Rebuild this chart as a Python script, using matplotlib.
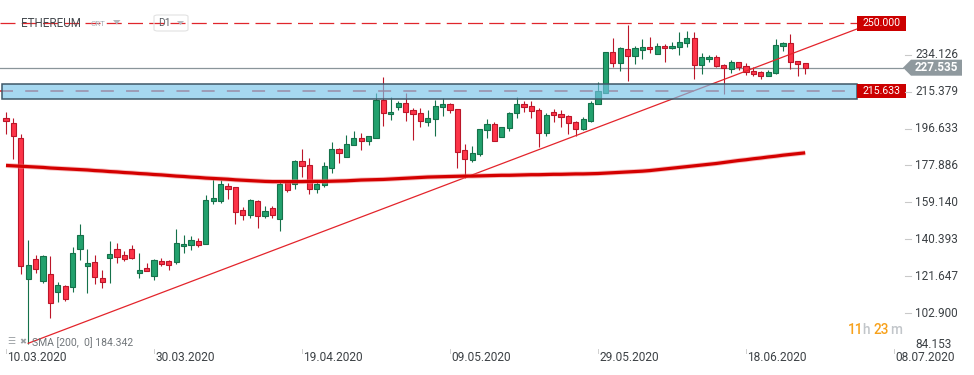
import matplotlib
matplotlib.use('Agg')
import matplotlib.pyplot as plt
import matplotlib.dates as mdates
from matplotlib.patches import Rectangle, Polygon, FancyBboxPatch
import numpy as np
import pandas as pd

plt.rcParams['font.family'] = ['Roboto', 'DejaVu Sans']

# ---------------- data ----------------
dates = pd.date_range('2020-03-10', periods=109, freq='D')

opens = [202.0, 199.5, 191.9, 120.0, 130.6, 119.3, 123.0, 113.7, 116.6, 116.2,
         135.7, 126.9, 128.9, 121.0, 130.9, 135.3, 132.3, 135.7, 123.5, 125.8,
         121.8, 129.2, 129.2, 128.9, 137.0, 137.3, 139.5, 138.2, 159.8, 159.8,
         167.6, 166.9, 155.4, 152.9, 159.8, 152.3, 156.4, 150.9, 169.4, 168.6,
         180.4, 177.9, 165.9, 168.1, 176.6, 186.3, 182.1, 188.4, 191.9, 190.2,
         191.7, 211.2, 204.1, 207.4, 209.7, 205.8, 204.6, 200.2, 201.6, 207.4,
         209.2, 206.6, 185.5, 180.9, 183.8, 196.0, 199.0, 192.2, 196.9, 204.5,
         209.2, 208.3, 206.1, 194.5, 205.2, 204.2, 203.1, 200.2, 196.5, 200.7,
         209.2, 214.7, 235.6, 229.9, 237.0, 233.3, 236.5, 238.2, 234.5, 238.7,
         237.5, 237.8, 239.9, 242.6, 228.9, 232.0, 232.8, 228.9, 226.9, 230.2,
         228.6, 226.0, 225.2, 223.1, 224.9, 238.3, 240.1, 230.7, 229.7]
highs = [204.9, 202.0, 194.0, 139.9, 132.6, 132.3, 131.8, 118.8, 117.1, 136.5,
         148.0, 135.7, 132.6, 124.7, 139.4, 138.5, 134.5, 137.7, 133.4, 128.6,
         130.6, 131.1, 129.8, 145.8, 142.8, 141.9, 141.1, 163.0, 171.7, 170.3,
         169.1, 167.2, 157.0, 160.7, 160.2, 157.5, 157.1, 169.8, 170.6, 180.9,
         186.0, 181.8, 169.4, 179.9, 189.7, 186.9, 193.6, 195.6, 194.5, 193.1,
         214.5, 223.0, 212.9, 210.8, 214.7, 207.1, 207.1, 206.3, 211.2, 212.2,
         209.7, 206.6, 188.9, 188.0, 196.5, 201.6, 200.2, 197.6, 205.2, 212.9,
         210.8, 210.7, 206.9, 204.7, 206.6, 206.1, 203.4, 200.7, 202.7, 210.6,
         220.4, 235.6, 242.4, 238.2, 249.2, 238.3, 242.1, 243.3, 240.1, 239.6,
         240.7, 245.4, 246.3, 245.8, 235.0, 234.1, 234.0, 229.4, 231.4, 230.2,
         229.9, 227.7, 226.0, 226.4, 242.1, 240.4, 244.6, 231.1, 229.9]
lows = [193.9, 181.3, 123.0, 87.5, 123.3, 118.2, 100.2, 108.6, 109.1, 113.7,
        129.7, 112.9, 117.9, 115.7, 118.4, 128.4, 129.4, 130.6, 120.8, 124.3,
        119.8, 126.6, 125.0, 127.7, 133.4, 134.8, 136.5, 138.1, 158.4, 158.8,
        160.8, 148.0, 150.0, 151.4, 146.2, 151.2, 151.2, 144.6, 164.2, 165.9,
        172.0, 163.5, 163.9, 166.9, 174.0, 179.1, 182.0, 188.3, 185.8, 188.4,
        191.7, 197.8, 201.2, 206.3, 200.7, 190.6, 197.3, 197.8, 192.7, 202.9,
        204.4, 176.5, 171.7, 179.6, 182.6, 191.7, 190.3, 192.1, 195.6, 202.0,
        205.2, 202.0, 187.5, 193.1, 200.2, 197.6, 193.7, 192.7, 196.1, 200.2,
        209.2, 214.7, 227.7, 225.7, 221.0, 229.4, 232.0, 234.8, 234.5, 230.6,
        237.0, 234.1, 237.8, 221.8, 224.4, 230.2, 227.7, 214.2, 224.7, 226.4,
        223.8, 223.1, 221.8, 223.1, 224.4, 236.2, 226.9, 223.1, 224.4]
closes = [200.5, 192.7, 126.9, 127.6, 125.2, 132.1, 108.1, 117.1, 110.3, 133.3,
          142.4, 128.6, 121.3, 118.8, 132.8, 131.4, 130.6, 130.9, 124.8, 124.5,
          129.7, 128.0, 127.5, 138.7, 138.2, 140.2, 137.7, 160.2, 161.5, 168.6,
          165.9, 154.2, 152.9, 160.2, 152.3, 154.9, 152.9, 168.6, 165.6, 180.4,
          177.5, 165.9, 168.6, 177.4, 186.3, 184.3, 188.9, 191.9, 190.2, 192.6,
          211.2, 204.6, 205.2, 209.7, 204.9, 204.1, 200.3, 202.1, 207.9, 209.2,
          205.8, 184.6, 181.3, 184.3, 196.5, 199.0, 190.4, 197.3, 204.7, 209.2,
          207.4, 205.4, 194.5, 203.6, 203.6, 202.4, 199.5, 196.5, 201.6, 209.8,
          215.9, 235.6, 229.9, 237.3, 233.3, 237.3, 238.2, 237.0, 238.7, 237.4,
          238.7, 240.7, 242.6, 228.9, 232.8, 233.1, 228.2, 227.2, 230.6, 227.7,
          225.2, 224.4, 223.1, 225.2, 239.0, 240.1, 230.2, 229.4, 227.5]

sma200 = [177.9, 177.7, 177.5, 177.3, 177.1, 176.9, 176.6, 176.4, 176.2, 176.0,
          175.8, 175.6, 175.3, 175.1, 174.8, 174.6, 174.3, 174.1, 173.8, 173.6,
          173.3, 173.1, 172.8, 172.5, 172.3, 172.0, 171.8, 171.5, 171.3, 171.1,
          170.9, 170.6, 170.4, 170.2, 170.0, 169.8, 169.7, 169.7, 169.7, 169.7,
          169.7, 169.8, 169.8, 169.8, 169.9, 170.0, 170.1, 170.3, 170.5, 170.6,
          170.7, 170.8, 171.0, 171.2, 171.4, 171.6, 171.8, 172.0, 172.1, 172.2,
          172.3, 172.4, 172.5, 172.5, 172.6, 172.7, 172.8, 172.9, 172.9, 173.0,
          173.1, 173.2, 173.2, 173.3, 173.4, 173.4, 173.5, 173.6, 173.6, 173.7,
          173.8, 174.0, 174.2, 174.4, 174.6, 174.8, 175.0, 175.3, 175.7, 176.1,
          176.5, 176.9, 177.3, 177.7, 178.1, 178.5, 178.9, 179.4, 179.9, 180.4,
          180.8, 181.3, 181.7, 182.2, 182.6, 183.1, 183.5, 183.9, 184.3]

ytick_values = [234.126, 215.379, 196.633, 177.886, 159.140, 140.393, 121.647, 102.900, 84.153]
ytick_labels = ['234.126', '215.379', '196.633', '177.886', '159.140', '140.393', '121.647', '102.900', '84.153']
xtick_dates = ['2020-03-10', '2020-03-30', '2020-04-19', '2020-05-09', '2020-05-29', '2020-06-18', '2020-07-08']
xtick_labels = ['10.03.2020', '30.03.2020', '19.04.2020', '09.05.2020', '29.05.2020', '18.06.2020', '08.07.2020']

resistance = 250.000
support = 215.633
last_price = 227.535
zone_low, zone_high = 211.5, 219.1
trend_dates = ['2020-03-13', '2020-07-03']
trend_values = [87.6, 247.2]

symbol = 'ETHEREUM'
sma_label = 'SMA [200,  0] 184.342'

# ---------------- figure ----------------
W, H = 974, 375
fig = plt.figure(figsize=(W / 100, H / 100), dpi=100)
fig.patch.set_facecolor('white')


def fx(px):
    return px / W


def fy(py):
    return 1 - py / H


ax = fig.add_axes([0, fy(350), 1, 350 / H])
ax.set_facecolor('white')
for s in ax.spines.values():
    s.set_visible(False)
ax.set_xticks([])
ax.set_yticks([])

x = mdates.date2num(dates)
d0 = x[0]
PXD = 7.4  # pixels per day
ax.set_xlim(d0 - 6 / PXD, d0 + (W - 6) / PXD)
ax.set_ylim(84.2, 261.9)

yax = ax.get_yaxis_transform()   # x axes fraction, y data
xax = ax.get_xaxis_transform()   # x data, y axes fraction

# horizontal levels
ax.plot([0, 903 / W], [last_price, last_price], transform=yax, color='#8a959a', lw=0.9, zorder=1)
ax.plot([0, 857 / W], [resistance, resistance], transform=yax, color='#e0262c', lw=0.9,
        dashes=(12, 5), zorder=1)
ax.plot([0, 857 / W], [support, support], transform=yax, color='#e0262c', lw=1.1,
        dashes=(8.5, 8), zorder=1)

# candles
o = np.array(opens); c = np.array(closes); h = np.array(highs); l = np.array(lows)
up = c >= o
fill = np.where(up, '#22a16d', '#fd3448')
edge = np.where(up, '#15714a', '#bb1629')
ax.vlines(x, l, h, colors=edge, lw=0.8, zorder=3)
bottom = np.minimum(o, c)
height = np.maximum(np.abs(c - o), 0.7)
ax.bar(x, height, bottom=bottom, width=0.7, color=fill, edgecolor=edge, linewidth=0.8, zorder=4)

# trend line and SMA
tx = mdates.date2num(pd.to_datetime(trend_dates))
ax.plot(tx, trend_values, color='#e3242b', lw=0.9, zorder=5)
ax.plot(x, sma200, color='#f08080', lw=3.6, alpha=0.5, zorder=5, solid_capstyle='butt')
ax.plot(x, sma200, color='#d40000', lw=2.3, zorder=5, solid_capstyle='butt')

# support zone
ax.add_patch(Rectangle((0.002, zone_low), 855 / W, zone_high - zone_low, transform=yax,
                       facecolor='#76c3e8', alpha=0.65, edgecolor='none', zorder=6))
ax.add_patch(Rectangle((0.002, zone_low), 855 / W, zone_high - zone_low, transform=yax,
                       facecolor='none', edgecolor='#3f5868', lw=1.1, zorder=7))

# price boxes
vpp = (261.9 - 84.2) / 350.0
for val in (resistance, support):
    ax.add_patch(Rectangle((857 / W, val - 7.2 * vpp), 49 / W, 14.4 * vpp, transform=yax,
                           facecolor='#cc0000', edgecolor='none', zorder=8))
    ax.text(881.5 / W, val, f'{val:.3f}', transform=yax, ha='center', va='center',
            color='white', fontsize=7.6, zorder=9)

poly = [(903 / W, last_price), (911 / W, last_price + 8 * vpp), (962 / W, last_price + 8 * vpp),
        (962 / W, last_price - 8 * vpp), (911 / W, last_price - 8 * vpp)]
ax.add_patch(Polygon(poly, closed=True, transform=yax, facecolor='#8f999e', edgecolor='none', zorder=8))
ax.text(936.5 / W, last_price, f'{last_price:.3f}', transform=yax, ha='center', va='center',
        color='white', fontsize=8.4, fontweight='bold', zorder=9)

# right axis labels
for v, lab in zip(ytick_values, ytick_labels):
    if lab == '84.153':
        ax.annotate(lab, xy=(915 / W, v), xycoords=yax, xytext=(0, 6), textcoords='offset pixels',
                    ha='left', va='center', fontsize=8.5, color='#3c4145', zorder=9)
    else:
        ax.plot([905 / W, 910.5 / W], [v, v], transform=yax, color='#c9c9c9', lw=0.8, zorder=9)
        ax.text(915 / W, v, lab, transform=yax, ha='left', va='center',
                fontsize=8.5, color='#3c4145', zorder=9)

# x axis labels
for d, lab in zip(xtick_dates, xtick_labels):
    xd = mdates.date2num(pd.Timestamp(d))
    ax.plot([xd, xd], [0.003, -0.009], transform=xax, color='#d0d0d0', lw=0.7, clip_on=False)
    ax.text(xd + 1.0 / PXD, -0.022, lab, transform=xax, ha='left', va='center',
            fontsize=8.6, color='#3c4145', clip_on=False)

# header
fig.text(fx(20.5), fy(23.5), symbol, ha='left', va='center', fontsize=8.4, color='#474c51')
fig.text(fx(90.5), fy(24), 'CRT', ha='left', va='center', fontsize=5.8, color='#a7aeb5')
fig.patches.append(Polygon([(fx(113), fy(20)), (fx(120.5), fy(20)), (fx(116.75), fy(24.5))],
                           closed=True, transform=fig.transFigure, facecolor='#b4b9be', edgecolor='none'))
fig.patches.append(FancyBboxPatch((fx(154), fy(31)), fx(188) - fx(154), fy(15) - fy(31),
                                  boxstyle='round,pad=0,rounding_size=0.004', transform=fig.transFigure,
                                  facecolor='none', edgecolor='#e2e2e2', lw=0.8))
fig.text(fx(158), fy(23.5), 'D1', ha='left', va='center', fontsize=7.4, color='#5b6066')
fig.patches.append(Polygon([(fx(177), fy(21)), (fx(184), fy(21)), (fx(180.5), fy(25))],
                           closed=True, transform=fig.transFigure, facecolor='#b4b9be', edgecolor='none'))

# SMA legend bottom-left
fig.text(fx(7), fy(341.5), '\u2630', ha='left', va='center', fontsize=6.5, color='#9a9ea2',
         family=['DejaVu Sans'])
fig.text(fx(19), fy(341.5), '\u2716', ha='left', va='center', fontsize=6, color='#9a9ea2',
         family=['DejaVu Sans'])
fig.text(fx(31.5), fy(343), sma_label, ha='left', va='center', fontsize=7.5, color='#71767a')

# countdown
cd_kw = dict(ha='left', va='center', fontsize=9.8, fontweight='medium')
fig.text(fx(848), fy(330.5), '11', color='#f7a11b', **cd_kw)
fig.text(fx(862.5), fy(330.5), 'h', color='#c2c6ca', **cd_kw)
fig.text(fx(873), fy(330.5), '23', color='#f7a11b', **cd_kw)
fig.text(fx(890), fy(330.5), 'm', color='#c2c6ca', **cd_kw)

fig.savefig('out.png', dpi=100, facecolor='white')
